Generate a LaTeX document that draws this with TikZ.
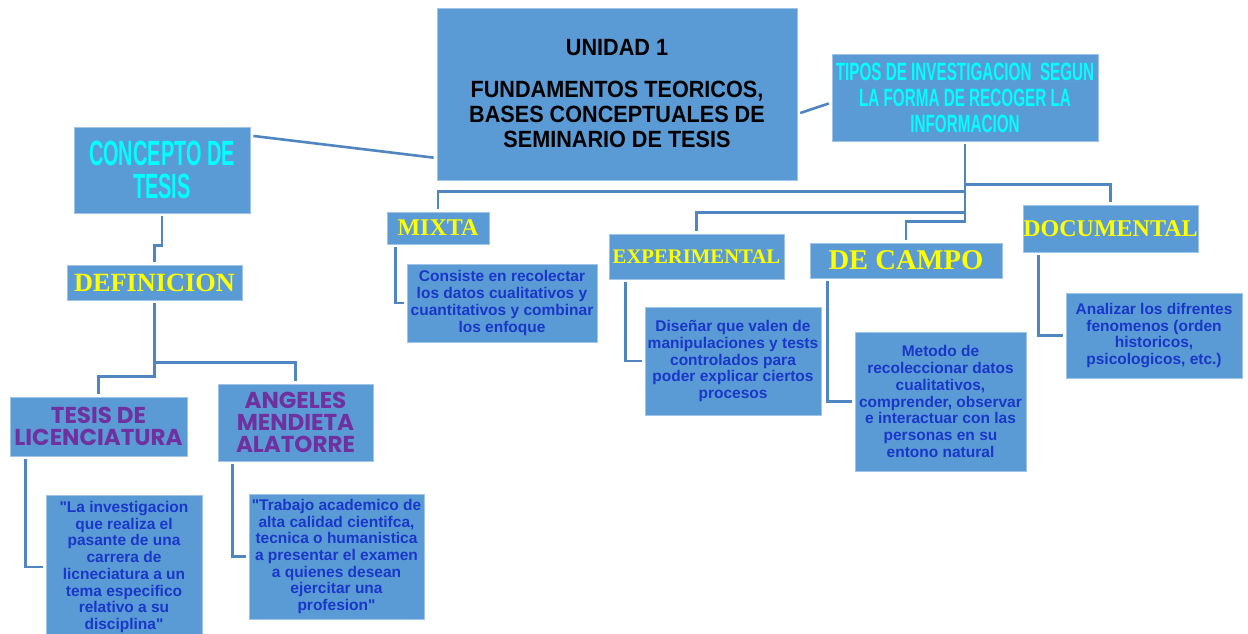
\documentclass[tikz,border=0pt]{standalone}
\usepackage{fontspec}
\setmainfont{Liberation Sans}
\newfontfamily\descfont{Liberation Sans}
\newfontfamily\narrowfont[FakeStretch=0.92]{Liberation Sans}
\newfontfamily\condfont[FakeStretch=0.57]{Liberation Sans}
\newfontfamily\widecondfont[FakeStretch=0.61]{Liberation Sans}
\newfontfamily\headfont{Liberation Serif}
\newfontfamily\geofont{Poppins}
\definecolor{boxblue}{RGB}{91,155,213}
\definecolor{boxedge}{RGB}{160,196,232}
\definecolor{linkblue}{RGB}{79,133,192}
\definecolor{headcyan}{RGB}{0,255,255}
\definecolor{headyellow}{RGB}{255,255,0}
\definecolor{headpurple}{RGB}{112,48,160}
\definecolor{descblue}{RGB}{25,55,200}

\begin{document}
\begin{tikzpicture}[x=1pt,y=-1pt,
    box/.style={fill=boxblue,draw=boxedge,line width=0.8pt,inner sep=0pt,align=center},
    link/.style={draw=linkblue,line width=2.6pt,shorten <=3pt,shorten >=3pt},
    titlebox/.style={box,font=\narrowfont\bfseries\fontsize{23.5}{25}\selectfont},
    cyanbox/.style={box,text=headcyan,font=\condfont\bfseries\fontsize{35}{33}\selectfont},
    yellowbox/.style={box,text=headyellow,font=\headfont\bfseries\fontsize{24}{26}\selectfont},
    purplebox/.style={box,text=headpurple,font=\geofont\bfseries\fontsize{23}{22}\selectfont},
    descbox/.style={box,text=descblue,font=\descfont\bfseries\fontsize{15.5}{16.7}\selectfont}]
    \path[use as bounding box,fill=white] (0,0) rectangle (1248,634);

    \node[titlebox,minimum width=360,minimum height=172] (main) at (617,94)
        {UNIDAD 1\\[17pt]FUNDAMENTOS TEORICOS,\\BASES CONCEPTUALES DE\\SEMINARIO DE TESIS};
    \node[cyanbox,minimum width=176,minimum height=86] (concepto) at (162,170) {CONCEPTO DE\\TESIS};
    \node[cyanbox,font=\widecondfont\bfseries\fontsize{25}{26}\selectfont,minimum width=266,minimum height=87] (tipos) at (965,97.5)
        {TIPOS DE INVESTIGACION~ SEGUN\\LA FORMA DE RECOGER LA\\INFORMACION};

    \node[yellowbox,font=\headfont\bfseries\fontsize{26.3}{28}\selectfont,minimum width=175,minimum height=35] (definicion) at (154.5,282.5) {DEFINICION};
    \node[purplebox,minimum width=177,minimum height=59] (tesislic) at (98.5,426.5) {TESIS DE\\LICENCIATURA};
    \node[purplebox,minimum width=155,minimum height=77] (angeles) at (295.5,422.5) {ANGELES\\MENDIETA\\ALATORRE};
    \node[descbox,minimum width=156,minimum height=144] (licdesc) at (124,567)
        {"La investigacion\\que realiza el\\pasante de una\\carrera de\\licneciatura a un\\tema especifico\\relativo a su\\disciplina"};
    \node[descbox,minimum width=175,minimum height=125] (angdesc) at (336.5,556.5)
        {"Trabajo academico de\\alta calidad cientifca,\\tecnica o humanistica\\a presentar el examen\\a quienes desean\\ejercitar una\\profesion"};

    \node[yellowbox,minimum width=102,minimum height=32] (mixta) at (438,228) {MIXTA};
    \node[yellowbox,font=\headfont\bfseries\fontsize{20.7}{22}\selectfont,minimum width=175,minimum height=45] (experimental) at (696.5,256.5) {EXPERIMENTAL};
    \node[yellowbox,font=\headfont\bfseries\fontsize{28.6}{30}\selectfont,minimum width=192,minimum height=35] (campo) at (906,260.5) {DE CAMPO};
    \node[yellowbox,minimum width=175,minimum height=47] (documental) at (1110.5,228.5) {DOCUMENTAL};

    \node[descbox,minimum width=190,minimum height=78] (mixtadesc) at (502,303)
        {Consiste en recolectar\\los datos cualitativos y\\cuantitativos y combinar\\los enfoque};
    \node[descbox,minimum width=176,minimum height=108] (expdesc) at (733,361)
        {Diseñar que valen de\\manipulaciones y tests\\controlados para\\poder explicar ciertos\\procesos};
    \node[descbox,minimum width=171,minimum height=139] (campodesc) at (940.5,401.5)
        {Metodo de\\recoleccionar datos\\cualitativos,\\comprender, observar\\e interactuar con las\\personas en su\\entono natural};
    \node[descbox,minimum width=176,minimum height=85] (docdesc) at (1154,335.5)
        {Analizar los difrentes\\fenomenos (orden\\historicos,\\psicologicos, etc.)};

    \draw[link] ([yshift=-9pt]concepto.north east) -- ([yshift=-64pt]main.west);
    \draw[link] ([yshift=-20pt]main.east) -- ([yshift=-5pt]tipos.west);

    \draw[link] (concepto.south) -- ++(0,32) -| (definicion.north);
    \draw[link] (definicion.south) |- ([yshift=21pt]angeles.north) -- (angeles.north);
    \draw[link] (definicion.south) |- ([yshift=20pt]tesislic.north) -- (tesislic.north);
    \draw[link] ([xshift=16pt]tesislic.south west) |- (licdesc.west);
    \draw[link] ([xshift=15pt]angeles.south west) |- (angdesc.west);

    \draw[link] (tipos.south) |- ([yshift=20pt]mixta.north) -- (mixta.north);
    \draw[link] (tipos.south) |- ([yshift=21pt]experimental.north) -- (experimental.north);
    \draw[link] (tipos.south) |- ([yshift=21pt]campo.north) -- (campo.north);
    \draw[link] (tipos.south) |- ([yshift=20pt]documental.north) -- (documental.north);
    \draw[link] ([xshift=9pt]mixta.south west) |- (mixtadesc.west);
    \draw[link] ([xshift=17pt]experimental.south west) |- (expdesc.west);
    \draw[link] ([xshift=18pt]campo.south west) |- (campodesc.west);
    \draw[link] ([xshift=16pt]documental.south west) |- (docdesc.west);
\end{tikzpicture}
\end{document}
